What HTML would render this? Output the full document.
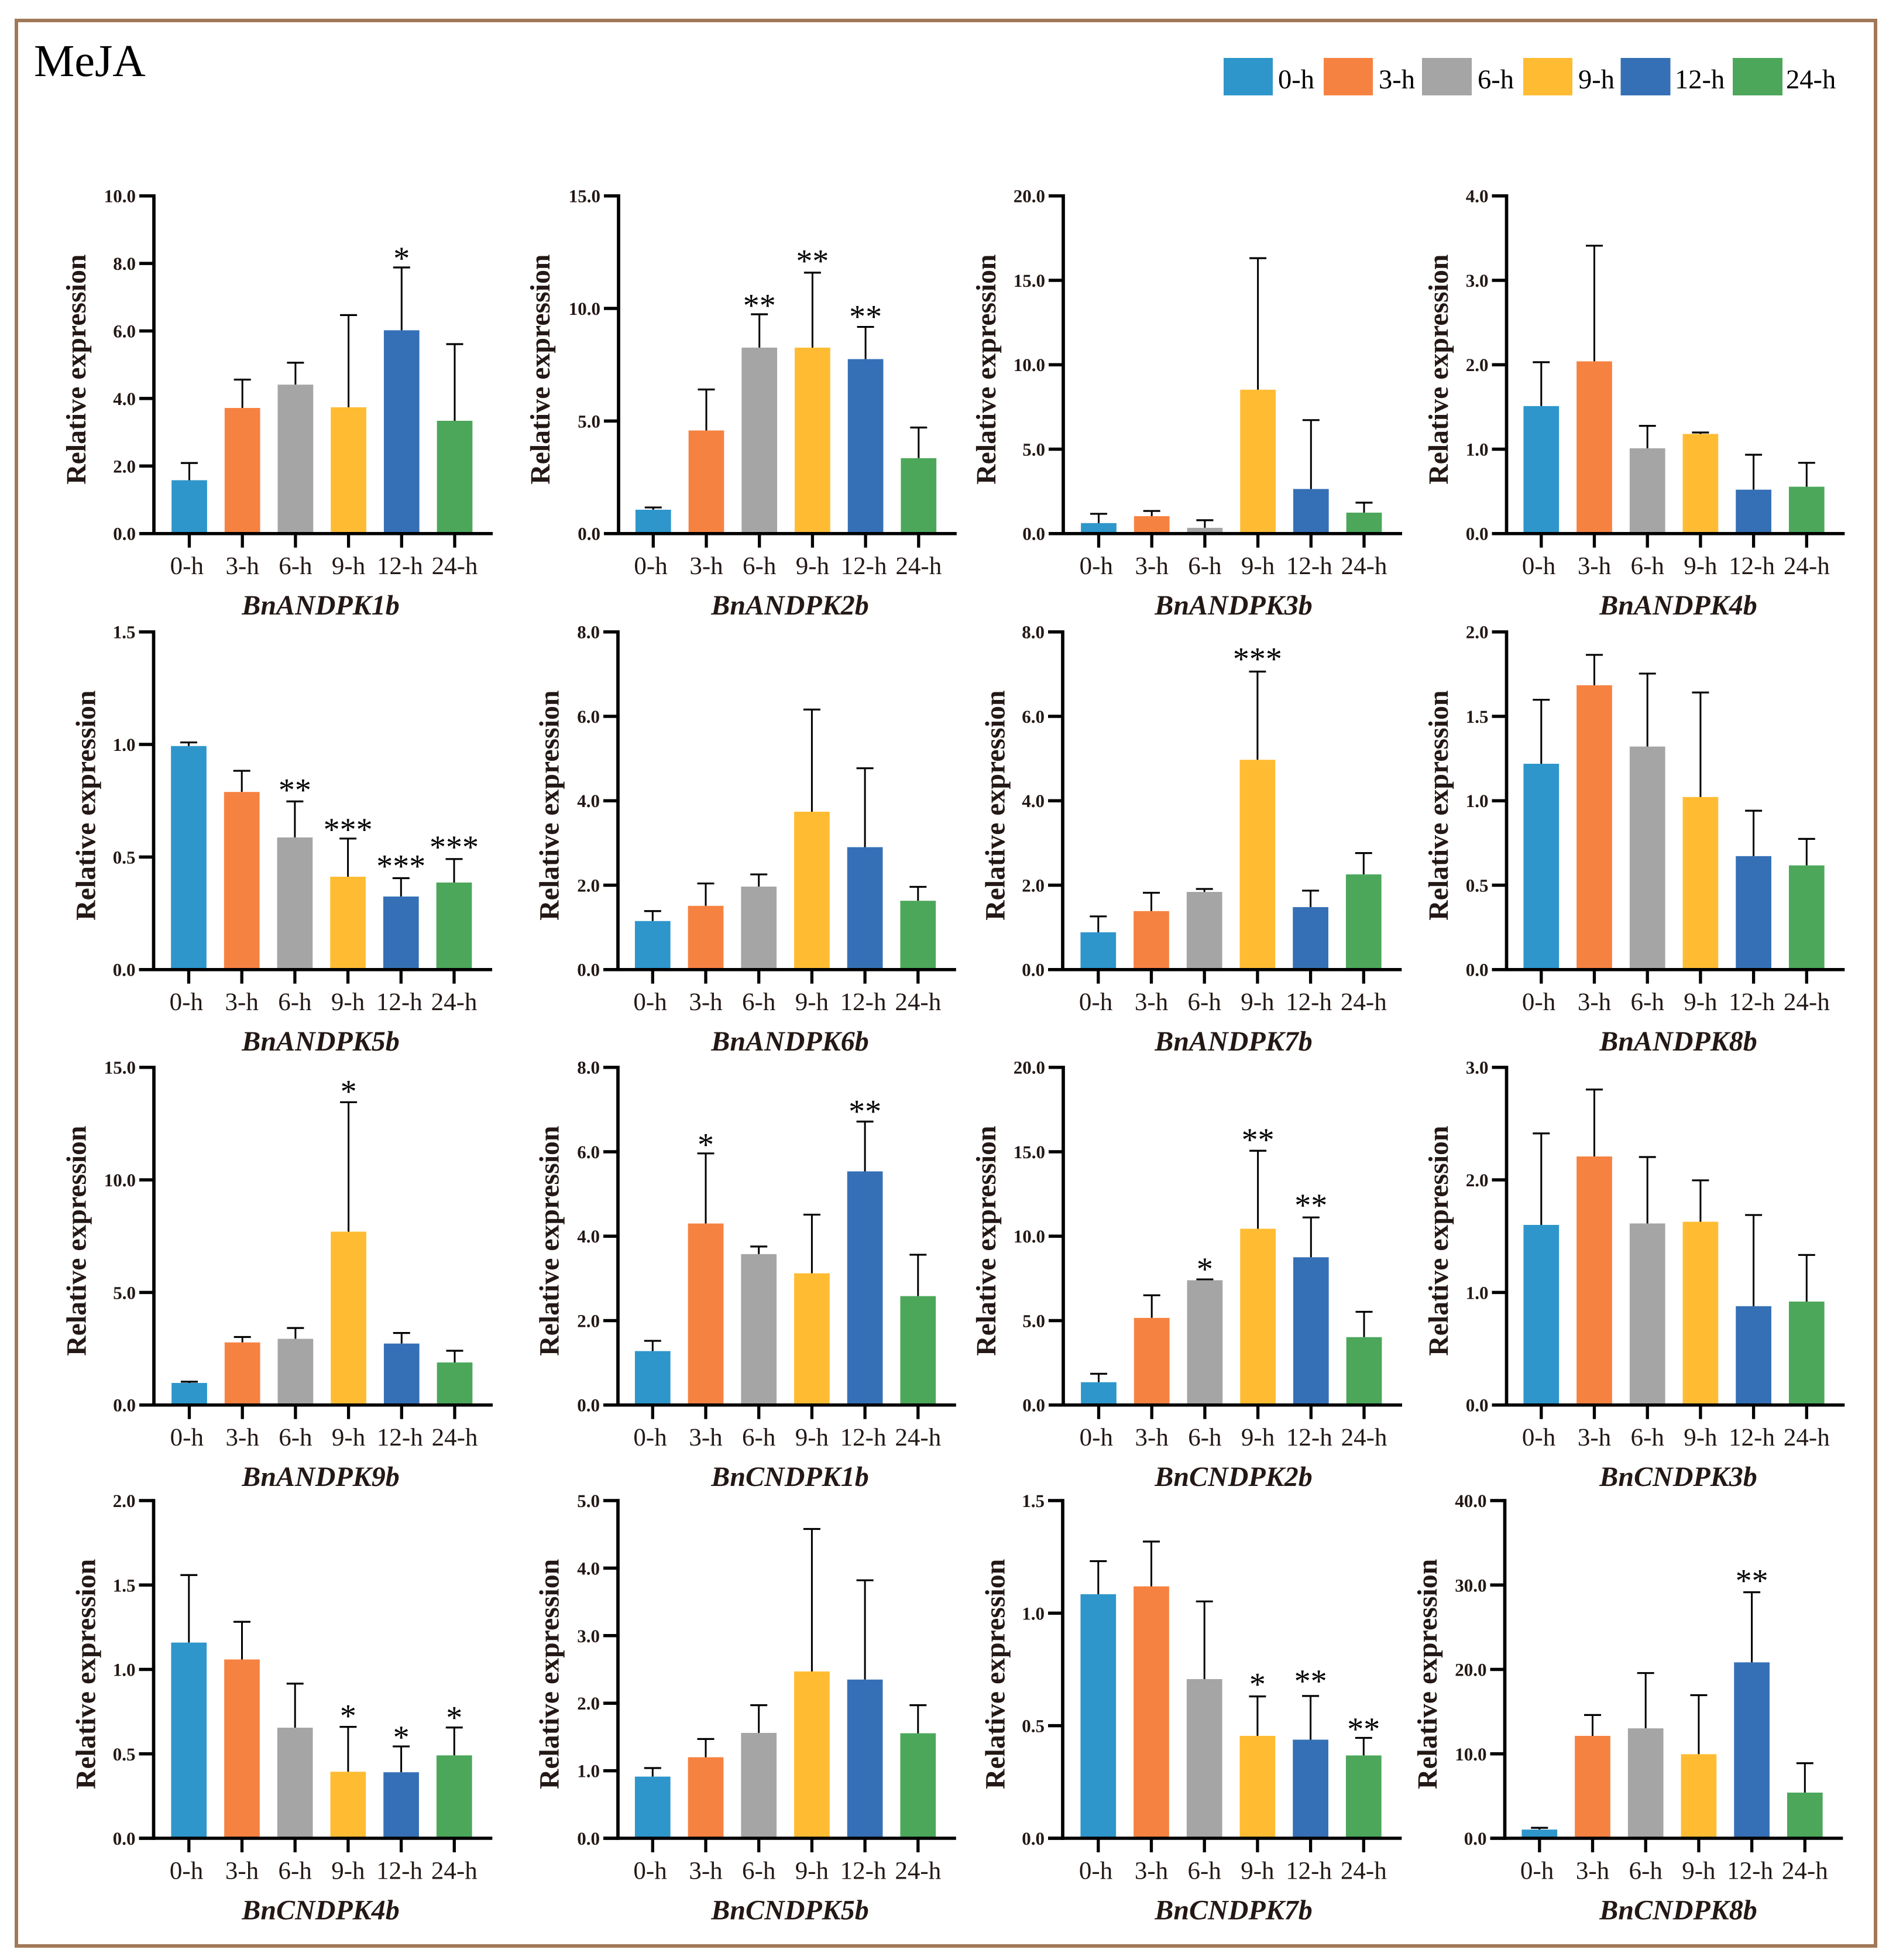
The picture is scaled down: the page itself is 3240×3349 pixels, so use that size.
<!DOCTYPE html>
<html lang="en">
<head>
<meta charset="utf-8">
<title>MeJA relative expression</title>
<style>
html,body{margin:0;padding:0;background:#fff;}
svg{display:block;text-rendering:geometricPrecision;}
text{font-family:"Liberation Serif",serif;}
</style>
</head>
<body>
<svg id="figure" xmlns="http://www.w3.org/2000/svg" width="3240" height="3349" viewBox="0 0 3240 3349">
  <rect x="0" y="0" width="3240" height="3349" fill="#ffffff"/>
  <rect x="28" y="35" width="3177" height="3290" fill="none" stroke="#A17958" stroke-width="6"/>
  <text x="58" y="130" font-size="78" fill="#000">MeJA</text>
  <g font-size="46.5" fill="#000">
    <rect x="2091" y="99" width="84" height="64" fill="#2E96CB"/>
    <text x="2184" y="151">0-h</text>
    <rect x="2262" y="99" width="84" height="64" fill="#F68241"/>
    <text x="2356" y="151">3-h</text>
    <rect x="2430" y="99" width="85" height="64" fill="#A5A5A5"/>
    <text x="2525" y="151">6-h</text>
    <rect x="2603" y="99" width="84" height="64" fill="#FFBC33"/>
    <text x="2697" y="151">9-h</text>
    <rect x="2769.5" y="99" width="85" height="64" fill="#3570B6"/>
    <text x="2862" y="151">12-h</text>
    <rect x="2961" y="99" width="85" height="64" fill="#4CA75B"/>
    <text x="3052" y="151">24-h</text>
  </g>
  <g id="panels"></g>
</svg>
<script>
const genes = ["BnANDPK1b","BnANDPK2b","BnANDPK3b","BnANDPK4b","BnANDPK5b","BnANDPK6b","BnANDPK7b","BnANDPK8b","BnANDPK9b","BnCNDPK1b","BnCNDPK2b","BnCNDPK3b","BnCNDPK4b","BnCNDPK5b","BnCNDPK7b","BnCNDPK8b"];
const timePoints = ["0-h","3-h","6-h","9-h","12-h","24-h"];
const yTickLabels = [
  ["0.0","2.0","4.0","6.0","8.0","10.0"],
  ["0.0","5.0","10.0","15.0"],
  ["0.0","5.0","10.0","15.0","20.0"],
  ["0.0","1.0","2.0","3.0","4.0"],
  ["0.0","0.5","1.0","1.5"],
  ["0.0","2.0","4.0","6.0","8.0"],
  ["0.0","2.0","4.0","6.0","8.0"],
  ["0.0","0.5","1.0","1.5","2.0"],
  ["0.0","5.0","10.0","15.0"],
  ["0.0","2.0","4.0","6.0","8.0"],
  ["0.0","5.0","10.0","15.0","20.0"],
  ["0.0","1.0","2.0","3.0"],
  ["0.0","0.5","1.0","1.5","2.0"],
  ["0.0","1.0","2.0","3.0","4.0","5.0"],
  ["0.0","0.5","1.0","1.5"],
  ["0.0","10.0","20.0","30.0","40.0"]
];
const meanValues = [
  [1.58,3.72,4.41,3.74,6.02,3.34],
  [1.06,4.58,8.26,8.26,7.75,3.35],
  [0.62,1.03,0.34,8.52,2.64,1.24],
  [1.51,2.04,1.01,1.18,0.52,0.555],
  [0.993,0.789,0.587,0.4125,0.3246,0.3867],
  [1.15,1.51,1.966,3.74,2.90,1.63],
  [0.883,1.386,1.84,4.97,1.48,2.255],
  [1.219,1.684,1.321,1.022,0.672,0.617],
  [0.98,2.78,2.94,7.70,2.73,1.89],
  [1.277,4.30,3.575,3.12,5.535,2.58],
  [1.35,5.16,7.39,10.44,8.75,4.02],
  [1.60,2.208,1.613,1.628,0.878,0.919],
  [1.159,1.059,0.655,0.394,0.391,0.491],
  [0.913,1.20,1.56,2.47,2.35,1.555],
  [1.084,1.119,0.707,0.455,0.438,0.368],
  [1.03,12.13,13.02,9.96,20.84,5.41]
];
const errorUpperValues = [
  [2.09,4.56,5.06,6.47,7.88,5.61],
  [1.16,6.40,9.74,11.59,9.18,4.71],
  [1.17,1.34,0.79,16.31,6.72,1.83],
  [2.03,3.41,1.276,1.197,0.934,0.838],
  [1.009,0.883,0.747,0.582,0.406,0.491],
  [1.386,2.04,2.255,6.16,4.77,1.96],
  [1.26,1.82,1.91,7.06,1.87,2.76],
  [1.598,1.864,1.753,1.641,0.941,0.774],
  [1.035,3.02,3.42,13.45,3.2,2.41],
  [1.52,5.96,3.755,4.51,6.715,3.56],
  [1.85,6.5,7.44,15.06,11.11,5.52],
  [2.413,2.803,2.203,1.996,1.688,1.333],
  [1.559,1.282,0.916,0.66,0.544,0.656],
  [1.04,1.47,1.97,4.58,3.82,1.97],
  [1.231,1.318,1.052,0.63,0.632,0.446],
  [1.24,14.6,19.57,16.95,29.14,8.89]
];
const significance = [
  ["","","","","*",""],
  ["","","**","**","**",""],
  ["","","","","",""],
  ["","","","","",""],
  ["","","**","***","***","***"],
  ["","","","","",""],
  ["","","","***","",""],
  ["","","","","",""],
  ["","","","*","",""],
  ["","*","","","**",""],
  ["","","*","**","**",""],
  ["","","","","",""],
  ["","","","*","*","*"],
  ["","","","","",""],
  ["","","","*","**","**"],
  ["","","","","**",""]
];
const seriesColors = ["#2E96CB","#F68241","#A5A5A5","#FFBC33","#3570B6","#4CA75B"];

/* panel layout (page geometry, not data) */
const rowTops = [334.7,1079.7,1823.7,2564];
const layoutAxisX = [263,1057,1817,2574.5, 262.5,1056,1816,2574.5, 263,1056,1817,2574.5, 262.5,1056,1816,2571.5];
const layoutFirstX = [323.5,1116.3,1877.5,2633.8, 322.5,1115.3,1876.8,2633.8, 323.5,1115.3,1877.5,2633.8, 322.8,1115.3,1876.8,2630.8];
const layoutTitleX = [146,939,1701,2474, 162.5,954.5,1716.5,2474, 146.5,954.5,1701,2474, 162.5,954.5,1716.5,2455];
const layoutGeneX = [548,1350,2108,2868];
const labelNudge = [-4.2,0,0,0,-3,0];
const starLift = {"0:4":-2,"1:2":-2.5,"1:3":2.5,"4:2":2,"4:3":-2,"4:4":3,"4:5":3,"6:3":4,"8:3":1,"9:1":-2.5,"10:3":1,"10:4":3,"12:3":1,"12:4":-2,"12:5":-1,"14:3":3,"14:4":8,"14:5":-2.5,"15:4":2};
const plotH = 577, step = 90.7, barW = 60.7, capW = 29;
const ink = "#231815";
const NS = "http://www.w3.org/2000/svg";

function mk(tag, attrs, parent, text){
  const e = document.createElementNS(NS, tag);
  for (const k in attrs) e.setAttribute(k, attrs[k]);
  if (text !== undefined) e.textContent = text;
  parent.appendChild(e);
  return e;
}
const root = document.getElementById("panels");

genes.forEach(function(gene, p){
  const row = Math.floor(p/4), col = p%4;
  const top = rowTops[row], bottom = top + plotH;
  const axisX = layoutAxisX[p], firstX = layoutFirstX[p];
  const ticks = yTickLabels[p];
  const yMax = parseFloat(ticks[ticks.length-1]);
  const yScale = function(v){ return bottom - v/yMax*plotH; };
  const xScale = function(i){ return firstX + i*step; };

  const g = mk("g", {}, root);
  
  

  timePoints.forEach(function(t, i){
    const x = xScale(i), yv = yScale(meanValues[p][i]), yu = yScale(errorUpperValues[p][i]);
    const stem = mk("line", {x1:x,x2:x,y1:yv,y2:yu,stroke:"#000","stroke-width":3}, g);
    
    
    const cap = mk("line", {x1:x-capW/2,x2:x+capW/2,y1:yu,y2:yu,stroke:"#000","stroke-width":3.2}, g);
    
    
    const bar = mk("rect", {x:x-barW/2,y:yv,width:barW,height:bottom-yv,fill:seriesColors[i]}, g);
    
    
    if (significance[p][i]) {
      const lift = starLift[p + ":" + i] || 0;
      const star = mk("text", {x:x,y:yu+1-lift,"font-size":56,"text-anchor":"middle",fill:"#000"}, g, significance[p][i]);
      
      
    }
    const tick = mk("line", {x1:x,x2:x,y1:bottom,y2:bottom+24,stroke:"#000","stroke-width":5.3}, g);
    
    
    const lab = mk("text", {x:x+labelNudge[i],y:bottom+69.3,"font-size":43,"text-anchor":"middle",fill:ink}, g, t);
    
    
  });

  const yAxis = mk("line", {x1:axisX,x2:axisX,y1:top-2.7,y2:bottom+2.7,stroke:"#000","stroke-width":5.7}, g);
  
  
  const xAxis = mk("line", {x1:axisX-25,x2:firstX+518.5,y1:bottom,y2:bottom,stroke:"#000","stroke-width":5.5}, g);
  
  

  ticks.forEach(function(label){
    const y = yScale(parseFloat(label));
    const tk = mk("line", {x1:axisX-25,x2:axisX,y1:y,y2:y,stroke:"#000","stroke-width":5.5}, g);
    
    
    const tl = mk("text", {x:axisX-31,y:y+11,"font-size":31,"font-weight":"bold","text-anchor":"end",fill:ink}, g, label);
    
    
  });

  const yt = mk("text", {transform:"translate("+layoutTitleX[p]+","+(top+296.5)+") rotate(-90)","font-size":47.8,"font-weight":"bold","text-anchor":"middle",fill:ink}, g, "Relative expression");
  
  

  const gl = mk("text", {x:layoutGeneX[col],y:bottom+138.5,"font-size":48,"font-weight":"bold","font-style":"italic","text-anchor":"middle",fill:ink}, g, gene);
  
  
});
</script>
</body>
</html>
